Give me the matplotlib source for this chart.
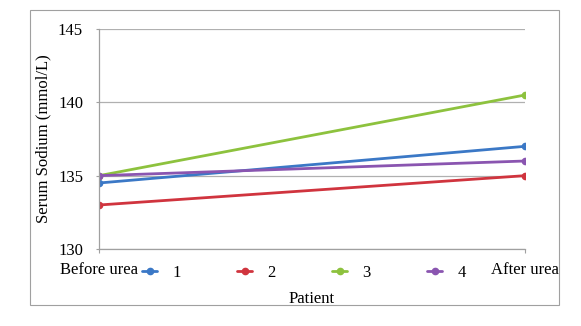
import matplotlib
matplotlib.use("Agg")
import matplotlib.pyplot as plt
from matplotlib.patches import Rectangle

# Serum sodium before and after urea treatment, per patient
stages = ["Before urea", "After urea"]
patients = ["1", "2", "3", "4"]
sodium_p1 = [134.5, 137.0]
sodium_p2 = [133.0, 135.0]
sodium_p3 = [135.0, 140.5]
sodium_p4 = [135.0, 136.0]
colors = ["#3b78c6", "#d0343e", "#8dc23e", "#8a55b0"]

plt.rcParams["font.family"] = ["Liberation Serif", "DejaVu Serif"]
FS = 12

fig = plt.figure(figsize=(5.81, 3.26), dpi=100)
fig.patches.append(Rectangle((30 / 581, 1 - 305 / 326), 529 / 581, 295 / 326,
                             transform=fig.transFigure, fill=False,
                             edgecolor="#a0a0a0", linewidth=0.8))
ax = fig.add_axes([99 / 581, 1 - 249 / 326, 426 / 581, 220 / 326])

series = [sodium_p1, sodium_p2, sodium_p3, sodium_p4]
x = list(range(len(stages)))
for vals, name, c in zip(series, patients, colors):
    ax.plot(x, vals, color=c, lw=2.0, marker="o", ms=4.5, label=name,
            solid_capstyle="round")

ax.set_xlim(0, 1)
ax.set_ylim(130, 145)
ax.set_yticks([130, 135, 140, 145])
ax.yaxis.grid(True, color="#b0b0b0", lw=0.9)
ax.set_axisbelow(True)
for s in ["top", "right"]:
    ax.spines[s].set_visible(False)
for s in ["left", "bottom"]:
    ax.spines[s].set_color("#a0a0a0")
    ax.spines[s].set_linewidth(0.9)
ax.tick_params(axis="y", labelsize=FS, length=2.5, color="#a0a0a0", pad=9)
ax.tick_params(axis="x", labelsize=FS, length=3, color="#a0a0a0", pad=6)
ax.set_xticks(x)
ax.set_xticklabels(stages)
ax.set_ylabel("Serum Sodium (mmol/L)", fontsize=FS, labelpad=5)
ax.set_xlabel("Patient", fontsize=FS, labelpad=10)

ax.legend(loc="center", bbox_to_anchor=(304 / 581, 1 - 273 / 326),
          bbox_transform=fig.transFigure, ncol=4, frameon=False,
          fontsize=FS, columnspacing=3.4, handlelength=0.9,
          handletextpad=0.9, borderpad=0)

fig.savefig("out.png", dpi=100)
